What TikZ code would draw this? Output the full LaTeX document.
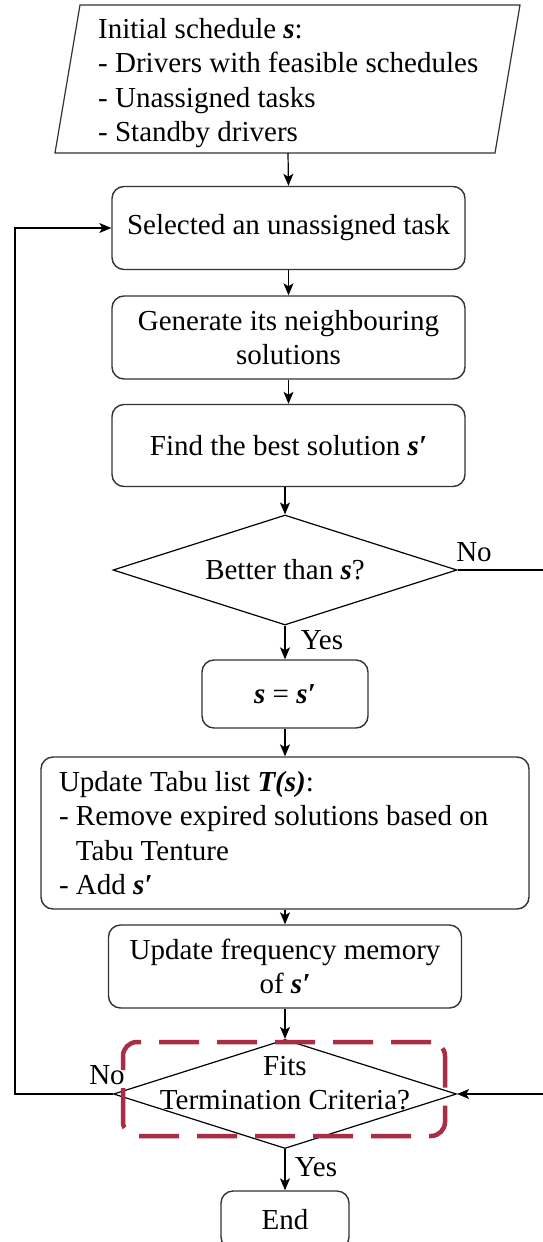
\documentclass[tikz,border=0pt]{standalone}
\usepackage{fontspec}
\setmainfont{Liberation Serif}
\usetikzlibrary{shapes.geometric,arrows.meta}
\definecolor{boxline}{HTML}{333333}
\definecolor{hl}{RGB}{170,45,70}
\newcommand{\bis}[1]{\textbf{\textit{#1}}}
\begin{document}
\begin{tikzpicture}[x=1pt,y=-1pt,
  every node/.style={font=\fontsize{29}{34.5}\selectfont},
  proc/.style={draw=boxline,line width=1.4pt,rounded corners=12pt,minimum width=353pt,minimum height=83pt,align=center,inner sep=0pt},
  dec/.style={draw=black,line width=1.2pt,diamond,inner sep=0pt,minimum width=344pt,minimum height=110pt},
  arr/.style={line width=1.2pt,-{Stealth[length=12pt,width=10pt,inset=3pt]}},
  lbl/.style={inner sep=0pt}
]
\useasboundingbox (0,0) rectangle (543,1242);
\clip (0,0) rectangle (543,1242);
\fill[white] (0,0) rectangle (543,1242);

% input parallelogram
\draw[line width=1.2pt, draw=boxline] (80,5) -- (520,5) -- (495,153) -- (55,153) -- cycle;
\node[anchor=north west, align=left, lbl] (par) at (98,18) {Initial schedule \bis{s}:\\- Drivers with feasible schedules\\- Unassigned tasks\\- Standby drivers};
\coordinate (parb) at (288,153);

\node[proc] (b1) at (288.5,228) {Selected an unassigned task};
\node[proc] (b2) at (288.5,337.5) {Generate its neighbouring\\solutions};
\node[proc, minimum height=82pt] (b3) at (288.5,445.5) {Find the best solution \bis{s′}};

\node[dec] (d1) at (285,570) {};
\node[lbl] (d1t) at (d1.center) {Better than \bis{s}?};
\node[lbl] (no1) at (474,552) {No};
\node[lbl] (yes1) at (322,640) {Yes};

\node[proc, minimum width=166pt, minimum height=68pt] (ss) at (285,694) {\bis{s} = \bis{s′}};

\node[proc, minimum width=488pt, minimum height=152pt, text width=452pt, align=flush left] (tabu) at (285,833)
  {Update Tabu list \bis{T(s)}:\\- Remove expired solutions based on\\\hphantom{-}\ Tabu Tenture\\- Add \bis{s′}};

\node[proc] (freq) at (285,966.5) {Update frequency memory\\of \bis{s′}};

\node[dec, minimum width=343pt, minimum height=109pt] (d2) at (285,1094) {};
\node[lbl, align=center] (d2t) at (285,1083) {Fits\\Termination Criteria?};
\node[lbl] (no2) at (107,1075) {No};
\node[lbl] (yes2) at (316,1167) {Yes};

\node[proc, minimum width=128pt, minimum height=58pt] (end) at (285,1220) {End};

\node[draw=hl, line width=4.5pt, dash pattern=on 40pt off 18pt, rounded corners=14pt, minimum width=322pt, minimum height=94pt] (hlbox) at (284,1089) {};

\coordinate (lx) at (15,0);
\coordinate (rx) at (560,0);

\draw[arr] (parb) -- (b1.north);
\draw[arr] (b1) -- (b2);
\draw[arr] (b2) -- (b3);
\draw[arr] (b3.south -| d1.north) -- (d1.north);
\draw[arr] (d1.south) -- (ss.north);
\draw[arr] (ss.south) -- (tabu.north);
\draw[arr] (tabu.south) -- (freq.north);
\draw[arr] (freq.south) -- (d2.north);
\draw[arr] (d2.south) -- (end.north);
\draw[arr] (d2.west) -- (d2.west -| lx) |- (b1.west);
\draw[arr] (d1.east) -- (d1.east -| rx) |- (d2.east);
\end{tikzpicture}
\end{document}
